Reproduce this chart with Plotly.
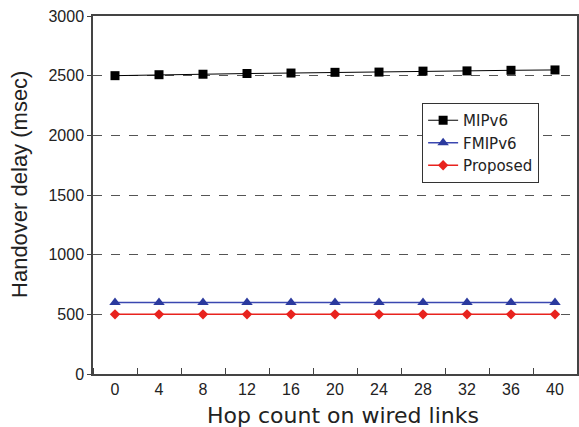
import plotly.graph_objects as go

hops = [0, 4, 8, 12, 16, 20, 24, 28, 32, 36, 40]
mipv6 = [2500, 2508, 2512, 2518, 2522, 2528, 2530, 2538, 2540, 2545, 2548]
fmipv6 = [600, 600, 600, 600, 600, 600, 600, 600, 600, 600, 600]
proposed = [500, 500, 500, 500, 500, 500, 500, 500, 500, 500, 500]
y_ticks = [0, 500, 1000, 1500, 2000, 2500, 3000]
x_title = "Hop count on wired links"
y_title = "Handover delay (msec)"

fig = go.Figure()
fig.add_trace(go.Scatter(x=hops, y=mipv6, name="MIPv6", mode="lines+markers",
                         line=dict(color="black", width=1),
                         marker=dict(symbol="square", size=9, color="black")))
fig.add_trace(go.Scatter(x=hops, y=fmipv6, name="FMIPv6", mode="lines+markers",
                         line=dict(color="#3a47b0", width=1.5),
                         marker=dict(symbol="triangle-up", size=10, color="#2b3a9e")))
fig.add_trace(go.Scatter(x=hops, y=proposed, name="Proposed", mode="lines+markers",
                         line=dict(color="#e8231e", width=1.5),
                         marker=dict(symbol="diamond", size=8, color="#e8231e")))

fig.update_layout(
    width=579, height=427,
    margin=dict(l=93, r=2, t=16, b=53),
    paper_bgcolor="white", plot_bgcolor="white",
    font=dict(family="Liberation Sans, Arial, sans-serif", color="#222"),
    legend=dict(x=0.68, y=0.757, xanchor="left", yanchor="top",
                bordercolor="#333", borderwidth=1, bgcolor="white", itemwidth=30,
                font=dict(size=15, family="DejaVu Sans"), tracegroupgap=0),
    xaxis=dict(range=[-2, 42], tickvals=hops, ticktext=[str(h) for h in hops],
               ticks="", showgrid=False, showline=True, linecolor="#444",
               linewidth=1.5, mirror=True, tickfont=dict(size=16), zeroline=False,
               automargin=False,
               minor=dict(tick0=2, dtick=4, ticks="inside", ticklen=6,
                          tickcolor="#444", showgrid=False)),
    yaxis=dict(range=[0, 3000], tickvals=y_ticks, ticks="outside", ticklen=4,
               tickcolor="#444", showgrid=True, gridcolor="#555", griddash="dash",
               gridwidth=1, showline=True, linecolor="#444", linewidth=1.5,
               mirror=True, zeroline=False, tickfont=dict(size=16),
               automargin=False),
    annotations=[
        dict(text=x_title, xref="paper", yref="paper", x=0.5165, y=0,
             xanchor="center", yanchor="middle", yshift=-41, showarrow=False,
             font=dict(size=22, family="DejaVu Sans", color="#222")),
        dict(text=y_title, xref="paper", yref="paper", x=0, y=0.528,
             xanchor="center", yanchor="middle", xshift=-73, textangle=-90,
             showarrow=False, font=dict(size=22, color="#222")),
    ],
)

fig.write_html("out.html", config={"displayModeBar": False},
               post_script="document.body.style.margin='0';")
